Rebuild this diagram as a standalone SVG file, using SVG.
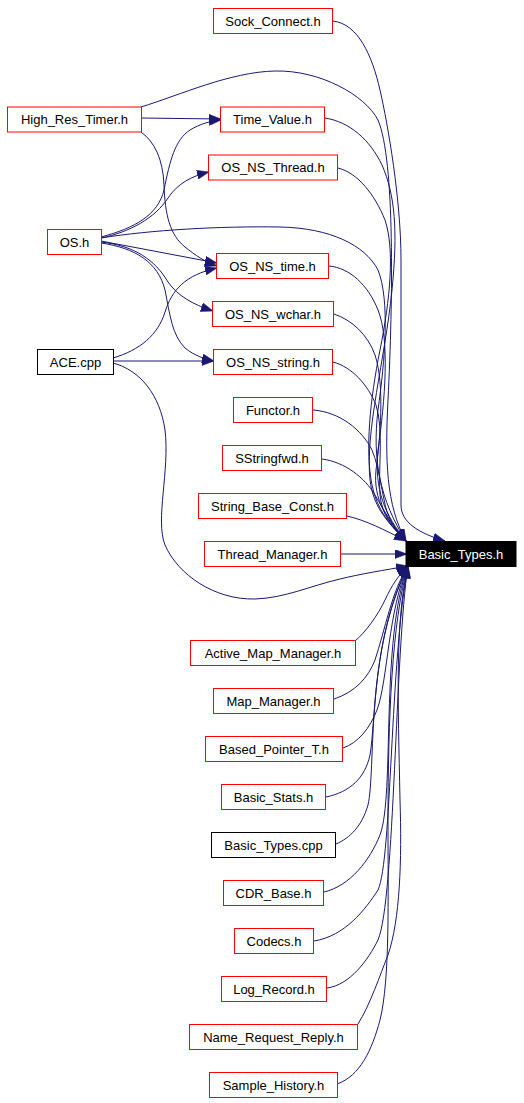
<svg xmlns="http://www.w3.org/2000/svg" width="524" height="1103" viewBox="0 0 524 1103">
<style>
.n rect{fill:#ffffff;stroke:#ff0000;stroke-width:1}
.n.k rect{stroke:#000000}
.n.b rect{fill:#000000;stroke:#000000}
.n text{font-family:"Liberation Sans",Arial,sans-serif;font-size:13px;text-anchor:middle;fill:#000000}
.n.b text{fill:#ffffff}
#edges path{fill:none;stroke:#191970;stroke-width:1;marker-end:url(#ah)}
</style>
<defs>
<marker id="ah" viewBox="0 0 12 9" refX="12" refY="4.5" markerWidth="12" markerHeight="9" markerUnits="userSpaceOnUse" orient="auto">
<path d="M0,0 L12,4.5 L0,9 Z" fill="#191970" stroke="#191970" stroke-width="0.5"/>
</marker>
</defs>
<rect x="0" y="0" width="524" height="1103" fill="#ffffff"/>
<g id="edges">
<!-- left side edges -->
<path d="M141,118 L221,119"/>
<path d="M101,237 C135,228 158,215 164,190 C170,160 175,140 190,130 C200,124 210,121 221,120"/>
<path d="M141,132 C155,142 163,160 164,185 C165,215 170,235 185,247 C195,255 205,262 217,266"/>
<path d="M101,238 C130,232 155,218 168,198 C178,183 192,176 209,172"/>
<path d="M101,241 L217,263"/>
<path d="M101,242 C135,246 155,260 168,282 C178,296 192,304 213,311"/>
<path d="M101,243 C135,248 158,262 165,290 C170,315 172,335 185,348 C195,356 205,359 214,361"/>
<path d="M113,358 C140,350 158,335 165,312 C172,290 185,275 217,268"/>
<path d="M113,361 L214,361"/>
<!-- edges into Basic_Types.h from above -->
<path d="M333,21 C358,24 372,55 380,90 C388,125 401,200 401,260 L401,505 C401,522 418,533 445,541"/>
<path d="M141,107 C180,95 230,72 275,71 C320,70 365,95 378,120 C395,160 393,300 388,400 C385,460 386,505 406,541"/>
<path d="M325,118 C350,122 370,140 382,165 C395,195 398,230 392,290 C385,360 365,430 370,480 C373,505 385,520 406,541"/>
<path d="M338,168 C358,173 375,195 385,220 C395,250 390,300 380,350 C370,400 365,450 372,485 C377,510 390,525 406,541"/>
<path d="M101,238 C150,230 220,226 280,227 C330,228 365,245 378,270 C390,300 385,360 378,410 C372,460 380,500 406,541"/>
<path d="M329,266 C350,268 368,285 378,310 C390,340 385,400 378,450 C374,490 385,515 406,541"/>
<path d="M334,314 C352,320 368,335 375,355 C385,385 380,440 376,470 C373,500 387,520 406,541"/>
<path d="M333,362 C352,367 368,385 376,405 C384,430 378,470 380,495 C382,515 392,527 406,541"/>
<path d="M313,410 C340,412 362,430 372,450 C380,470 382,495 387,512 C392,525 398,532 406,541"/>
<path d="M322,459 C345,462 365,478 375,495 C385,512 393,527 406,541"/>
<path d="M347,516 C365,520 385,530 406,541"/>
<path d="M341,554 L407,554"/>
<!-- ACE.cpp to Basic_Types.h -->
<path d="M113,363 C140,370 160,395 165,430 C170,470 155,520 165,545 C178,575 215,600 255,599 C285,598 310,586 340,579 C360,574 385,570 408,566"/>
<!-- edges into Basic_Types.h from below -->
<path d="M355,641 C365,633 378,615 385,600 C392,585 398,576 408,566"/>
<path d="M334,699 C355,692 368,678 375,660 C385,630 392,590 408,566"/>
<path d="M343,748 C358,743 370,728 377,710 C388,680 388,610 408,566"/>
<path d="M326,797 C350,792 365,778 370,755 C376,720 372,640 408,566"/>
<path d="M336,844 C350,838 362,826 368,805 C376,770 365,650 408,566"/>
<path d="M324,892 C350,886 370,860 380,835 C395,795 380,640 408,566"/>
<path d="M314,941 C345,936 365,910 378,890 C392,860 390,660 408,566"/>
<path d="M327,988 C350,985 368,960 378,940 C395,900 395,650 408,566"/>
<path d="M358,1024 C370,1005 380,975 388,955 C400,920 402,860 400,800 C398,700 395,620 408,566"/>
<path d="M337,1084 C360,1076 372,1050 380,1020 C390,980 388,900 388,820 C388,720 392,620 408,566"/>
</g>
<g id="n_sock" class="n"><rect x="213.5" y="8.5" width="119" height="25"/><text x="273" y="25.5">Sock_Connect.h</text></g>
<g id="n_hrt" class="n"><rect x="7.5" y="107" width="134" height="25"/><text x="74.5" y="124">High_Res_Timer.h</text></g>
<g id="n_timevalue" class="n"><rect x="220.5" y="107" width="104" height="25"/><text x="272.5" y="124">Time_Value.h</text></g>
<g id="n_osthread" class="n"><rect x="208.5" y="155" width="129" height="25"/><text x="273" y="172">OS_NS_Thread.h</text></g>
<g id="n_os" class="n"><rect x="47.5" y="229.5" width="54" height="25"/><text x="74.5" y="246.5">OS.h</text></g>
<g id="n_ostime" class="n"><rect x="216.5" y="253.5" width="112" height="25"/><text x="272.5" y="270.5">OS_NS_time.h</text></g>
<g id="n_oswchar" class="n"><rect x="212.5" y="301.5" width="121" height="25"/><text x="273" y="318.5">OS_NS_wchar.h</text></g>
<g id="n_ace" class="n k"><rect x="37.5" y="349.5" width="76" height="25"/><text x="75.5" y="366.5">ACE.cpp</text></g>
<g id="n_osstring" class="n"><rect x="213.5" y="349.5" width="119" height="25"/><text x="273" y="366.5">OS_NS_string.h</text></g>
<g id="n_functor" class="n"><rect x="233.5" y="397.5" width="79" height="25"/><text x="273" y="414.5">Functor.h</text></g>
<g id="n_sstringfwd" class="n"><rect x="222.5" y="445.5" width="99" height="25"/><text x="272" y="462.5">SStringfwd.h</text></g>
<g id="n_sbc" class="n"><rect x="198.5" y="493.5" width="148" height="25"/><text x="272.5" y="510.5">String_Base_Const.h</text></g>
<g id="n_tm" class="n"><rect x="204.5" y="541.5" width="136" height="25"/><text x="272.5" y="558.5">Thread_Manager.h</text></g>
<g id="n_basictypes" class="n b"><rect x="406" y="541.5" width="110" height="25"/><text x="461" y="558.5">Basic_Types.h</text></g>
<g id="n_amm" class="n"><rect x="190.5" y="640.5" width="165" height="25"/><text x="273" y="657.5">Active_Map_Manager.h</text></g>
<g id="n_mm" class="n"><rect x="213.5" y="688.5" width="120" height="25"/><text x="273.5" y="705.5">Map_Manager.h</text></g>
<g id="n_bpt" class="n"><rect x="205.5" y="736.5" width="137" height="25"/><text x="274" y="753.5">Based_Pointer_T.h</text></g>
<g id="n_bs" class="n"><rect x="221.5" y="784.5" width="104" height="25"/><text x="273.5" y="801.5">Basic_Stats.h</text></g>
<g id="n_btcpp" class="n k"><rect x="211.5" y="832.5" width="124" height="25"/><text x="273.5" y="849.5">Basic_Types.cpp</text></g>
<g id="n_cdr" class="n"><rect x="223.5" y="880.5" width="100" height="25"/><text x="273.5" y="897.5">CDR_Base.h</text></g>
<g id="n_codecs" class="n"><rect x="234.5" y="928.5" width="79" height="25"/><text x="274" y="945.5">Codecs.h</text></g>
<g id="n_log" class="n"><rect x="221.5" y="976.5" width="105" height="25"/><text x="274" y="993.5">Log_Record.h</text></g>
<g id="n_nrr" class="n"><rect x="189.5" y="1024.5" width="168" height="25"/><text x="273.5" y="1041.5">Name_Request_Reply.h</text></g>
<g id="n_sh" class="n"><rect x="209.5" y="1072.5" width="128" height="25"/><text x="273.5" y="1089.5">Sample_History.h</text></g>
</svg>
